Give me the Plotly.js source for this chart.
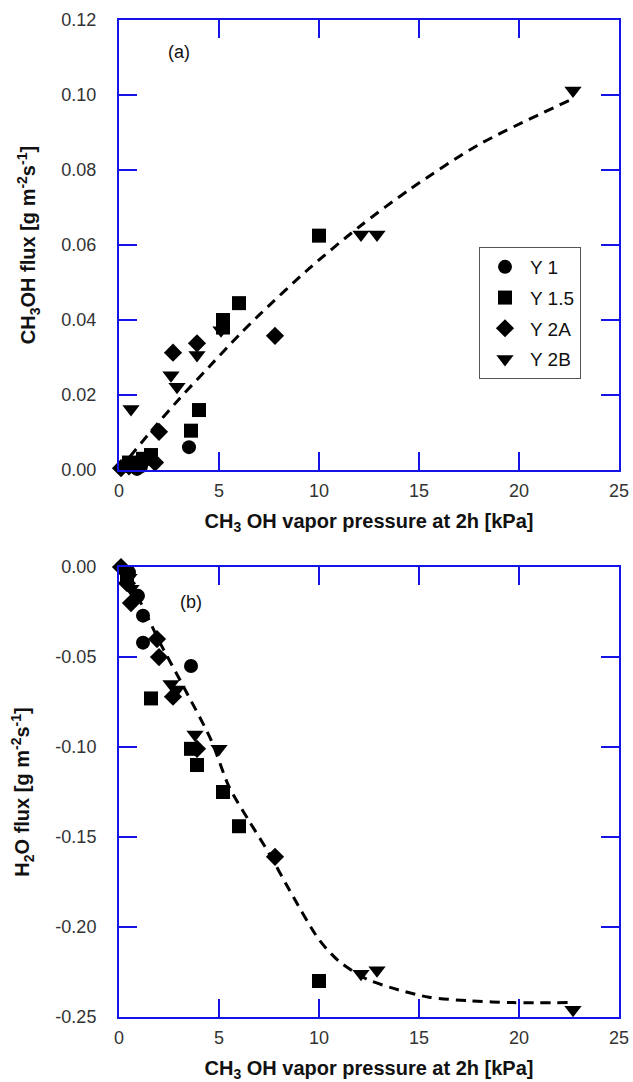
<!DOCTYPE html>
<html>
<head>
<meta charset="utf-8">
<script src="https://cdn.plot.ly/plotly-3.0.1.min.js"></script>
<style>html,body{margin:0;padding:0;background:#fff;}#chart{width:633px;height:1082px;}</style>
</head>
<body>
<div id="chart"></div>
<script>
// ---- Data ----
const seriesNames = ["Y 1", "Y 1.5", "Y 2A", "Y 2B"];

// Panel (a): CH3OH flux vs CH3OH vapor pressure
const a_Y1_x   = [0.5, 0.9, 1.1, 3.5];
const a_Y1_y   = [0.001, 0.0003, 0.001, 0.0061];
const a_Y15_x  = [0.5, 1.2, 1.6, 3.6, 4.0, 5.2, 5.2, 6.0, 10.0];
const a_Y15_y  = [0.002, 0.003, 0.004, 0.0105, 0.016, 0.038, 0.040, 0.0445, 0.0625];
const a_Y2A_x  = [0.1, 0.5, 1.8, 2.0, 2.7, 3.9, 7.8];
const a_Y2A_y  = [0.0005, 0.001, 0.002, 0.0102, 0.0313, 0.0338, 0.0358];
const a_Y2B_x  = [0.6, 2.6, 2.9, 3.9, 5.1, 12.1, 12.9, 22.7];
const a_Y2B_y  = [0.0163, 0.0253, 0.0222, 0.0307, 0.0373, 0.0628, 0.0628, 0.1012];
const a_fit_x  = [0, 1.5, 3, 4.5, 6, 7, 9.5, 12, 14.5, 18, 22.5];
const a_fit_y  = [0, 0.0097, 0.0189, 0.0275, 0.036, 0.0413, 0.0537, 0.0648, 0.0747, 0.0868, 0.0985];

// Panel (b): H2O flux vs CH3OH vapor pressure
const b_Y1_x   = [0.5, 0.95, 1.2, 1.2, 3.6];
const b_Y1_y   = [-0.003, -0.016, -0.027, -0.042, -0.055];
const b_Y15_x  = [0.4, 1.6, 3.6, 3.9, 5.2, 6.0, 10.0];
const b_Y15_y  = [-0.004, -0.073, -0.101, -0.110, -0.125, -0.144, -0.230];
const b_Y2A_x  = [0.1, 0.4, 0.6, 1.9, 2.0, 2.7, 3.9, 7.8];
const b_Y2A_y  = [0.0, -0.009, -0.020, -0.040, -0.050, -0.072, -0.101, -0.161];
const b_Y2B_x  = [0.5, 0.6, 2.6, 2.9, 3.8, 5.0, 12.1, 12.9, 22.7];
const b_Y2B_y  = [-0.006, -0.012, -0.065, -0.068, -0.093, -0.101, -0.226, -0.224, -0.246];
const b_fit_x  = [0, 1, 2, 3.3, 4.6, 5.5, 6.5, 7.5, 8.5, 10, 11, 12.4, 14, 15.5, 17.5, 19.7, 22.5];
const b_fit_y  = [0, -0.018, -0.041, -0.068, -0.096, -0.122, -0.141, -0.159, -0.179, -0.207, -0.219, -0.229, -0.235, -0.239, -0.241, -0.242, -0.242];

const xTicks = [0, 5, 10, 15, 20, 25];
const aTicks = [0, 0.02, 0.04, 0.06, 0.08, 0.10, 0.12];
const bTicks = [0, -0.05, -0.10, -0.15, -0.20, -0.25];

// ---- Styling ----
const FONT = "Arial, 'Liberation Sans', sans-serif";
const BLUE = "#1414e6";
const symbols = ["circle", "square", "diamond", "triangle-down"];
const sizes = [14, 14, 14, 15];

function pts(x, y, i, xa, ya, show) {
  return {
    x: x, y: y, xaxis: xa, yaxis: ya, type: "scatter", mode: "markers",
    name: seriesNames[i], showlegend: show, legendgroup: "g" + i,
    cliponaxis: false,
    marker: {symbol: symbols[i], size: sizes[i], color: "#000", line: {width: 0}}
  };
}
function fit(x, y, xa, ya) {
  return {
    x: x, y: y, xaxis: xa, yaxis: ya, type: "scatter", mode: "lines",
    showlegend: false, hoverinfo: "skip",
    line: {color: "#000", width: 3, dash: "10px,7px", shape: "spline", smoothing: 0.8}
  };
}

const data = [
  fit(a_fit_x, a_fit_y, "x", "y"),
  fit(b_fit_x, b_fit_y, "x2", "y2"),
  pts(a_Y1_x, a_Y1_y, 0, "x", "y", true),
  pts(a_Y15_x, a_Y15_y, 1, "x", "y", true),
  pts(a_Y2A_x, a_Y2A_y, 2, "x", "y", true),
  pts(a_Y2B_x, a_Y2B_y, 3, "x", "y", true),
  pts(b_Y1_x, b_Y1_y, 0, "x2", "y2", false),
  pts(b_Y15_x, b_Y15_y, 1, "x2", "y2", false),
  pts(b_Y2A_x, b_Y2A_y, 2, "x2", "y2", false),
  pts(b_Y2B_x, b_Y2B_y, 3, "x2", "y2", false)
];

const tickFont = {family: FONT, size: 18, color: "#333"};
const titleFont = {family: FONT, size: 20, color: "#111", weight: "bold"};

function xAxis(anchor, standoff) {
  return {
    anchor: anchor, range: [0, 25], tickvals: xTicks, ticktext: xTicks.map(String),
    showline: true, linecolor: BLUE, linewidth: 2, mirror: "allticks",
    ticks: "inside", ticklen: 18, tickwidth: 2, tickcolor: BLUE,
    showgrid: false, zeroline: false, tickfont: tickFont, ticklabelstandoff: 3,
    title: {text: "<b>CH<sub>3</sub> OH vapor pressure at 2h [kPa]</b>", font: titleFont, standoff: standoff}
  };
}
function yAxis(anchor, domain, range, ticks, title) {
  return {
    anchor: anchor, domain: domain, range: range, tickvals: ticks,
    ticktext: ticks.map(v => v.toFixed(2)),
    showline: true, linecolor: BLUE, linewidth: 2, mirror: "allticks",
    ticks: "inside", ticklen: 18, tickwidth: 2, tickcolor: BLUE,
    showgrid: false, zeroline: false, tickfont: tickFont, ticklabelstandoff: 17,
    title: {text: title, font: titleFont, standoff: 20}
  };
}

const layout = {
  width: 633, height: 1082,
  margin: {l: 119, r: 14, t: 20, b: 65},
  paper_bgcolor: "#fff", plot_bgcolor: "#fff",
  font: {family: FONT, color: "#111"},
  xaxis: Object.assign(xAxis("y", 14), {domain: [0, 1]}),
  xaxis2: Object.assign(xAxis("y2", 18), {domain: [0, 1]}),
  yaxis: yAxis("x", [0.5486, 1], [0, 0.12], aTicks,
    "<b>CH<sub>3</sub>OH flux [g m<sup>-2</sup>s<sup>-1</sup>]</b>"),
  yaxis2: yAxis("x2", [0, 0.4513], [-0.25, 0], bTicks,
    "<b>H<sub>2</sub>O flux [g m<sup>-2</sup>s<sup>-1</sup>]</b>"),
  showlegend: true,
  legend: {
    x: 0.72, y: 0.7723, xanchor: "left", yanchor: "top",
    bgcolor: "#fff", bordercolor: "#555", borderwidth: 1,
    font: {family: FONT, size: 19, color: "#111"},
    traceorder: "grouped", tracegroupgap: 3, itemwidth: 40
  },
  annotations: [
    {xref: "x", yref: "y", x: 3, y: 0.1115, text: "(a)", showarrow: false,
     font: {family: FONT, size: 18, color: "#111"}},
    {xref: "x2", yref: "y2", x: 3.6, y: -0.0195, text: "(b)", showarrow: false,
     font: {family: FONT, size: 18, color: "#111"}}
  ]
};

Plotly.newPlot("chart", data, layout, {displayModeBar: false, staticPlot: true});
</script>
</body>
</html>
